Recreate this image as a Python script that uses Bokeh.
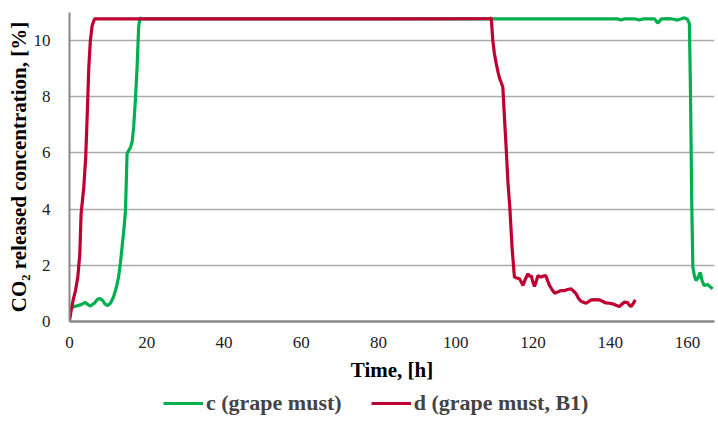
from bokeh.plotting import figure
from bokeh.layouts import column
from bokeh.models import Range1d, Legend, LegendItem, FixedTicker
from bokeh.embed import file_html
from bokeh.resources import INLINE

# Series c (grape must) - green
c_time = [0.0, 1.0, 2.0, 3.0, 4.1, 4.8, 5.4, 6.5, 7.2, 7.8, 8.5, 9.2, 9.9, 10.6, 11.4, 12.1,
          12.7, 13.2, 13.6, 14.1, 14.5, 14.9, 15.3, 15.8, 16.2, 16.6, 17.05, 17.5, 17.9, 18.2,
          19.0, 40.0, 80.0, 120.0, 140.0, 142.0, 142.8, 143.6, 146.5, 147.5, 148.5, 151.5,
          152.3, 153.2, 155.3, 156.5, 157.4, 158.3, 159.2, 160.0, 160.5, 160.8, 161.1, 161.4,
          161.8, 162.2, 162.7, 163.3, 163.8, 164.3, 165.2, 166.5]
c_co2 = [0.47, 0.52, 0.56, 0.60, 0.68, 0.60, 0.55, 0.66, 0.78, 0.82, 0.76, 0.62, 0.57, 0.65,
         0.87, 1.20, 1.58, 2.10, 2.64, 3.30, 3.95, 5.97, 6.08, 6.20, 6.38, 6.90, 7.86, 9.05,
         10.47, 10.80, 10.77, 10.77, 10.77, 10.77, 10.77, 10.77, 10.73, 10.77, 10.77, 10.73,
         10.77, 10.77, 10.62, 10.77, 10.78, 10.76, 10.73, 10.77, 10.81, 10.76, 10.60, 8.0,
         4.30, 1.93, 1.62, 1.46, 1.55, 1.75, 1.45, 1.28, 1.32, 1.16]

# Series d (grape must, B1) - red
d_time = [0.0, 0.5, 1.0, 1.55, 2.15, 2.67, 3.0, 3.7, 4.2, 4.57, 5.0, 5.4, 5.86, 6.46, 8.0,
          40.0, 80.0, 108.8, 109.2, 109.6, 110.0, 110.5, 111.0, 111.4, 111.8, 112.2, 112.6,
          113.1, 113.5, 114.0, 114.6, 115.2, 115.8, 116.5, 117.0, 117.4, 118.0, 118.7, 119.1,
          119.5, 120.0, 120.4, 120.9, 121.3, 121.7, 122.1, 122.7, 123.3, 123.8, 124.3, 125.0,
          125.6, 126.4, 127.3, 128.2, 129.0, 129.9, 130.5, 131.2, 131.8, 132.5, 133.2, 133.8,
          134.5, 135.1, 136.2, 137.2, 138.0, 138.9, 139.8, 140.6, 141.5, 142.4, 143.0, 143.7,
          144.5, 145.0, 145.4, 146.0, 146.5]
d_co2 = [0.03, 0.45, 0.80, 1.10, 1.58, 2.40, 3.83, 4.78, 5.85, 7.27, 9.05, 10.00, 10.53,
         10.77, 10.77, 10.77, 10.77, 10.78, 10.80, 10.00, 9.55, 9.17, 8.85, 8.64, 8.50,
         8.34, 7.30, 6.08, 5.00, 4.07, 2.60, 1.58, 1.55, 1.52, 1.40, 1.28, 1.50, 1.70, 1.60,
         1.64, 1.40, 1.25, 1.45, 1.64, 1.60, 1.58, 1.62, 1.64, 1.45, 1.28, 1.12, 1.01, 1.05,
         1.10, 1.10, 1.14, 1.16, 1.08, 0.98, 0.82, 0.71, 0.68, 0.65, 0.72, 0.77, 0.78, 0.77,
         0.72, 0.66, 0.65, 0.63, 0.58, 0.53, 0.62, 0.69, 0.67, 0.58, 0.53, 0.65, 0.77]

series_names = ["c (grape must)", "d (grape must, B1)"]
x_ticks = [0, 20, 40, 60, 80, 100, 120, 140, 160]
y_ticks = [0, 2, 4, 6, 8, 10]

GREEN = "#00B04F"
RED = "#BE0032"
SERIF = "Liberation Serif"

p = figure(width=718, height=390, output_backend="svg", toolbar_location=None,
           x_range=Range1d(0, 167), y_range=Range1d(0, 11),
           min_border_left=69, min_border_right=4, min_border_top=12, min_border_bottom=69)
p.outline_line_color = None
p.background_fill_color = "white"

r_c = p.line(c_time, c_co2, line_color=GREEN, line_width=3.2)
r_d = p.line(d_time, d_co2, line_color=RED, line_width=3.2)

p.xgrid.grid_line_color = None
p.ygrid.ticker = FixedTicker(ticks=y_ticks)
p.ygrid.grid_line_color = "#AAAAAA"
p.ygrid.grid_line_width = 1.5

p.xaxis.ticker = FixedTicker(ticks=x_ticks)
p.yaxis.ticker = FixedTicker(ticks=y_ticks)
for ax in (p.xaxis[0], p.yaxis[0]):
    ax.major_tick_line_color = None
    ax.minor_tick_line_color = None
    ax.major_label_text_font = SERIF
    ax.major_label_text_font_size = "17px"
    ax.major_label_text_color = "#222222"
    ax.axis_label_text_font = SERIF
    ax.axis_label_text_font_style = "bold"
    ax.axis_label_text_font_size = "21px"
    ax.axis_label_text_color = "black"

p.xaxis.axis_line_color = "#888888"
p.xaxis.axis_line_width = 2.5
p.yaxis.axis_line_color = "#888888"
p.yaxis.axis_line_width = 2
p.xaxis.axis_label = "Time, [h]"
p.yaxis.axis_label = "CO₂ released concentration, [%]"
p.xaxis.major_label_standoff = 9
p.xaxis.axis_label_standoff = 7
p.yaxis.major_label_standoff = 13
p.yaxis.axis_label_standoff = 0

# Legend figure below the chart
lf = figure(width=718, height=51, output_backend="svg", toolbar_location=None,
            x_range=Range1d(0, 1), y_range=Range1d(0, 1),
            min_border_left=0, min_border_right=0, min_border_top=0, min_border_bottom=0)
lf.axis.visible = False
lf.grid.visible = False
lf.outline_line_color = None
l_c = lf.line([-5, -4], [-5, -4], line_color=GREEN, line_width=3.2)
l_d = lf.line([-5, -4], [-5, -4], line_color=RED, line_width=3.2)

legend = Legend(items=[LegendItem(label=series_names[0], renderers=[l_c]),
                       LegendItem(label=series_names[1], renderers=[l_d])],
                orientation="horizontal", location=(94, 25))
legend.label_text_font = SERIF
legend.label_text_font_style = "bold"
legend.label_text_font_size = "22px"
legend.glyph_width = 40
legend.label_standoff = 3
legend.spacing = 29
legend.padding = 0
legend.margin = 0
legend.border_line_color = None
legend.background_fill_alpha = 0
lf.add_layout(legend, "center")

layout = column(p, lf, spacing=0)
open("out.html", "w").write(file_html(layout, INLINE))
